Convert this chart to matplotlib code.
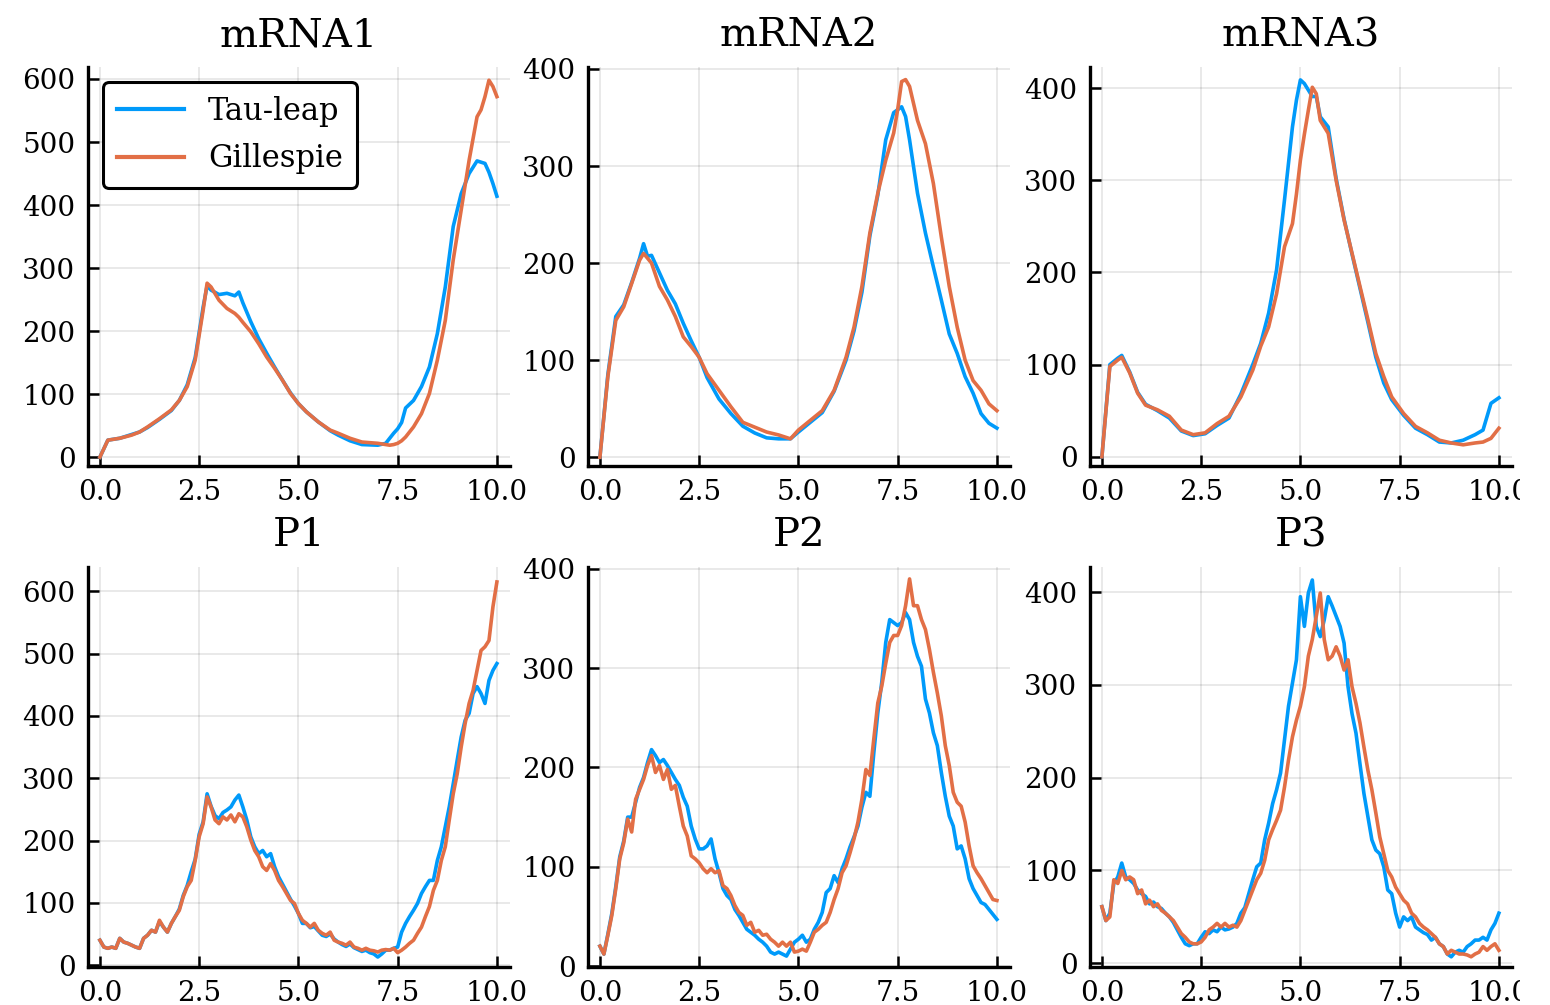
import numpy as np
import matplotlib
matplotlib.use("Agg")
import matplotlib.pyplot as plt
from matplotlib.ticker import FormatStrFormatter
from matplotlib.patches import Rectangle

# ---- data ----
# mRNA curves are smooth, so irregular time grids are enough

t_m1 = [0, 0.2, 0.5, 0.8, 1.0, 1.2, 1.5, 1.8, 2.0, 2.2, 2.4, 2.6, 2.7, 2.8, 3.0, 3.2, 3.4, 3.5, 3.6, 3.8,
        4.0, 4.2, 4.4, 4.6, 4.8, 5.0, 5.2, 5.5, 5.8, 6.0, 6.3, 6.6, 7.0, 7.2, 7.3, 7.4, 7.5, 7.6, 7.7, 7.9,
        8.1, 8.3, 8.5, 8.7, 8.9, 9.1, 9.3, 9.5, 9.6, 9.7, 9.8, 9.9, 10.0]
tau_m1 = [0, 27, 30, 36, 40, 47, 60, 74, 90, 115, 158, 238, 272, 265, 258, 260, 256, 262, 245, 215,
          188, 165, 143, 122, 102, 85, 72, 56, 42, 35, 26, 20, 19, 22, 30, 38, 45, 55, 78, 90,
          112, 143, 196, 270, 366, 418, 450, 470, 468, 466, 452, 434, 414]
gil_m1 = [0, 27, 30, 35, 40, 48, 61, 75, 90, 112, 154, 233, 276, 270, 249, 236, 228, 222, 214, 199,
          180, 159, 141, 122, 101, 85, 72, 56, 43, 38, 30, 24, 22, 20, 19, 20, 22, 26, 32, 48,
          69, 101, 154, 217, 313, 392, 471, 540, 551, 572, 598, 588, 572]

t_m2 = [0, 0.2, 0.4, 0.6, 0.8, 1.0, 1.1, 1.2, 1.3, 1.5, 1.7, 1.9, 2.1, 2.3, 2.5, 2.7, 3.0, 3.3, 3.6, 3.9,
        4.2, 4.5, 4.8, 5.0, 5.3, 5.6, 5.9, 6.2, 6.4, 6.6, 6.8, 7.0, 7.2, 7.4, 7.5, 7.6, 7.7, 7.8, 8.0, 8.2,
        8.4, 8.6, 8.8, 9.0, 9.2, 9.4, 9.6, 9.8, 10.0]
tau_m2 = [0, 85, 145, 157, 180, 205, 220, 207, 208, 190, 172, 158, 138, 120, 103, 82, 60, 45, 32, 25,
          20, 19, 19, 26, 36, 46, 68, 100, 130, 170, 228, 270, 327, 355, 358, 361, 351, 327, 272, 231,
          196, 162, 127, 107, 83, 66, 45, 35, 30]
gil_m2 = [0, 83, 141, 155, 179, 203, 210, 205, 200, 176, 162, 145, 124, 114, 103, 86, 69, 52, 36, 31,
          26, 23, 19, 28, 38, 48, 69, 103, 134, 176, 231, 272, 306, 334, 358, 387, 389, 382, 347, 323,
          282, 227, 176, 134, 100, 79, 69, 55, 48]

t_m3 = [0, 0.2, 0.4, 0.5, 0.7, 0.9, 1.1, 1.4, 1.7, 2.0, 2.3, 2.6, 2.9, 3.2, 3.5, 3.8, 4.0, 4.2, 4.4, 4.6,
        4.8, 4.9, 5.0, 5.1, 5.2, 5.3, 5.4, 5.5, 5.7, 5.9, 6.1, 6.3, 6.5, 6.7, 6.9, 7.1, 7.3, 7.6, 7.9, 8.2,
        8.5, 8.8, 9.1, 9.4, 9.6, 9.8, 10.0]
tau_m3 = [0, 100, 107, 110, 92, 70, 57, 50, 42, 28, 23, 25, 34, 42, 68, 100, 123, 156, 203, 279,
          358, 387, 409, 405, 398, 391, 391, 369, 358, 302, 258, 220, 183, 146, 108, 80, 62, 45, 31, 24,
          16, 15, 18, 24, 29, 58, 64]
gil_m3 = [0, 98, 105, 108, 91, 69, 56, 51, 44, 29, 24, 26, 36, 44, 65, 94, 120, 141, 177, 228,
          253, 285, 322, 350, 376, 401, 394, 365, 351, 300, 257, 221, 185, 149, 112, 87, 65, 47, 33, 26,
          18, 15, 13, 15, 16, 20, 31]

# protein curves are noisy: one value every 0.1
t_p = [round(0.1 * i, 1) for i in range(101)]

tau_p1 = [40, 29, 27, 29, 27, 43, 37, 35, 32, 29,
          27, 43, 48, 56, 53, 70, 61, 53, 67, 78,
          90, 112, 128, 150, 170, 210, 230, 275, 255, 240,
          235, 245, 249, 254, 265, 273, 254, 233, 206, 190,
          179, 184, 174, 179, 158, 142, 130, 118, 106, 95,
          83, 67, 67, 60, 62, 55, 48, 46, 50, 42,
          37, 33, 30, 34, 28, 25, 22, 24, 20, 18,
          13, 18, 24, 24, 27, 29, 53, 67, 78, 88,
          99, 115, 126, 136, 136, 168, 190, 222, 254, 291,
          329, 366, 393, 404, 436, 447, 436, 420, 457, 473,
          484]
gil_p1 = [40, 29, 27, 29, 27, 43, 37, 35, 32, 29,
          27, 43, 48, 56, 53, 72, 61, 53, 67, 78,
          88, 110, 126, 136, 168, 206, 227, 270, 254, 233,
          227, 238, 233, 241, 230, 243, 238, 222, 201, 184,
          174, 158, 152, 163, 152, 136, 126, 115, 104, 99,
          83, 72, 67, 61, 67, 56, 51, 48, 53, 40,
          37, 35, 32, 37, 29, 27, 24, 27, 24, 23,
          21, 24, 25, 24, 27, 20, 24, 29, 35, 40,
          51, 61, 78, 94, 120, 136, 168, 190, 233, 275,
          307, 350, 388, 420, 441, 473, 505, 511, 521, 575,
          615]

tau_p2 = [20, 12, 32, 53, 80, 110, 126, 150, 150, 165,
          180, 190, 205, 218, 212, 205, 208, 202, 195, 188,
          182, 170, 161, 141, 128, 118, 118, 121, 128, 108,
          94, 78, 71, 67, 57, 51, 44, 37, 34, 31,
          27, 24, 20, 14, 12, 14, 12, 10, 17, 24,
          27, 31, 24, 27, 37, 44, 54, 74, 78, 91,
          84, 98, 108, 120, 130, 141, 160, 175, 171, 215,
          255, 286, 326, 349, 346, 343, 346, 356, 349, 326,
          312, 302, 269, 255, 235, 222, 195, 171, 151, 141,
          118, 121, 108, 88, 78, 71, 64, 62, 57, 52,
          47]
gil_p2 = [20, 12, 31, 51, 78, 108, 124, 148, 135, 168,
          178, 188, 202, 212, 195, 202, 188, 198, 178, 182,
          161, 141, 131, 111, 108, 104, 98, 94, 98, 94,
          96, 81, 78, 71, 61, 54, 51, 41, 44, 34,
          36, 31, 32, 27, 24, 20, 24, 20, 24, 14,
          15, 17, 15, 24, 34, 37, 41, 44, 54, 67,
          78, 94, 101, 114, 128, 145, 168, 198, 192, 229,
          265, 282, 305, 326, 333, 333, 343, 363, 390, 363,
          363, 349, 339, 319, 296, 275, 252, 222, 202, 175,
          165, 161, 145, 121, 101, 94, 88, 81, 74, 67,
          66]

tau_p3 = [61, 46, 54, 86, 93, 108, 93, 90, 86, 79,
          75, 72, 64, 66, 61, 59, 54, 50, 44, 36,
          28, 21, 19, 21, 21, 28, 34, 32, 36, 34,
          39, 36, 37, 39, 43, 54, 60, 75, 90, 104,
          108, 133, 151, 172, 187, 205, 241, 277, 302, 327,
          395, 363, 399, 413, 363, 352, 370, 395, 385, 374,
          363, 345, 298, 269, 248, 215, 183, 158, 133, 122,
          118, 104, 79, 75, 54, 39, 50, 46, 50, 39,
          36, 33, 31, 25, 28, 21, 18, 10, 7, 12,
          14, 12, 18, 21, 25, 25, 28, 25, 36, 43,
          54]
gil_p3 = [61, 46, 50, 90, 86, 100, 90, 93, 90, 75,
          79, 64, 68, 61, 64, 57, 54, 50, 46, 39,
          32, 28, 23, 21, 21, 23, 28, 36, 39, 43,
          39, 43, 39, 41, 39, 46, 57, 68, 79, 90,
          97, 111, 133, 144, 154, 165, 190, 219, 244, 262,
          277, 298, 331, 349, 374, 399, 349, 327, 331, 341,
          331, 316, 327, 298, 280, 259, 233, 208, 187, 162,
          136, 118, 100, 93, 82, 75, 68, 64, 54, 50,
          43, 39, 36, 32, 28, 21, 18, 10, 14, 12,
          10, 10, 9, 7, 10, 12, 18, 14, 18, 21,
          14]

titles = ["mRNA1", "mRNA2", "mRNA3", "P1", "P2", "P3"]
series_labels = ["Tau-leap", "Gillespie"]
x_ticks = [0, 2.5, 5.0, 7.5, 10.0]

# ---- styling (looks like Plots.jl / GR defaults) ----
blue = "#009AFA"
orange = "#E26F46"
plt.rcParams["font.family"] = ["DejaVu Serif"]

fig = plt.figure(figsize=(15.5, 10.05), dpi=100)

# axes boxes in pixels: left spine, top, right end, bottom spine
W, H = 1550.0, 1005.0
boxes = [(88, 67, 510, 466), (588, 67, 1010, 466), (1090, 67, 1512, 466),
         (88, 567, 510, 967), (588, 567, 1010, 967), (1090, 567, 1512, 967)]
ylims = [(-14, 619), (-9, 402), (-10, 423), (-3, 639), (-1, 402), (-4, 427)]
ytop = [600, 400, 400, 600, 400, 400]

panels = [(t_m1, tau_m1, t_m1, gil_m1), (t_m2, tau_m2, t_m2, gil_m2), (t_m3, tau_m3, t_m3, gil_m3),
          (t_p, tau_p1, t_p, gil_p1), (t_p, tau_p2, t_p, gil_p2), (t_p, tau_p3, t_p, gil_p3)]

for i in range(6):
    l, t, r, b = boxes[i]
    ax = fig.add_axes([l / W, 1 - b / H, (r - l) / W, (b - t) / H])
    ta, ya, tb, yb = panels[i]
    ax.plot(ta, ya, color=blue, lw=2.6, label=series_labels[0], solid_joinstyle="round")
    ax.plot(tb, yb, color=orange, lw=2.6, label=series_labels[1], solid_joinstyle="round")

    ax.set_xlim(-0.30, 10.33)
    ax.set_ylim(*ylims[i])
    ax.set_xticks(x_ticks)
    ax.set_yticks(np.arange(0, ytop[i] + 1, 100))
    ax.xaxis.set_major_formatter(FormatStrFormatter("%.1f"))

    ax.grid(True, color="black", alpha=0.1, lw=1.2)
    ax.set_axisbelow(True)
    for s in ["top", "right"]:
        ax.spines[s].set_visible(False)
    for s in ["left", "bottom"]:
        ax.spines[s].set_linewidth(2.4)
    ax.tick_params(direction="in", length=8, width=1.8, labelsize=20)
    ax.tick_params(axis="y", pad=9)
    ax.tick_params(axis="x", pad=9)
    ax.set_title(titles[i], fontsize=29, pad=15)

    if i == 0:
        leg = ax.legend(loc="upper left", bbox_to_anchor=(0.035, 0.963), borderaxespad=0,
                        fontsize=22, handlelength=2.2, handletextpad=0.8, labelspacing=0.55,
                        borderpad=0.45, fancybox=True, framealpha=1, edgecolor="black")
        leg.get_frame().set_linewidth(2.2)
        for ln in leg.get_lines():
            ln.set_linewidth(3)

# the original canvas cuts off at about x=1520
fig.add_artist(Rectangle((1520 / W, 0), 1 - 1520 / W, 1, transform=fig.transFigure,
                         facecolor="white", edgecolor="none", zorder=100))

fig.savefig("out.png", dpi=100, facecolor="white")
